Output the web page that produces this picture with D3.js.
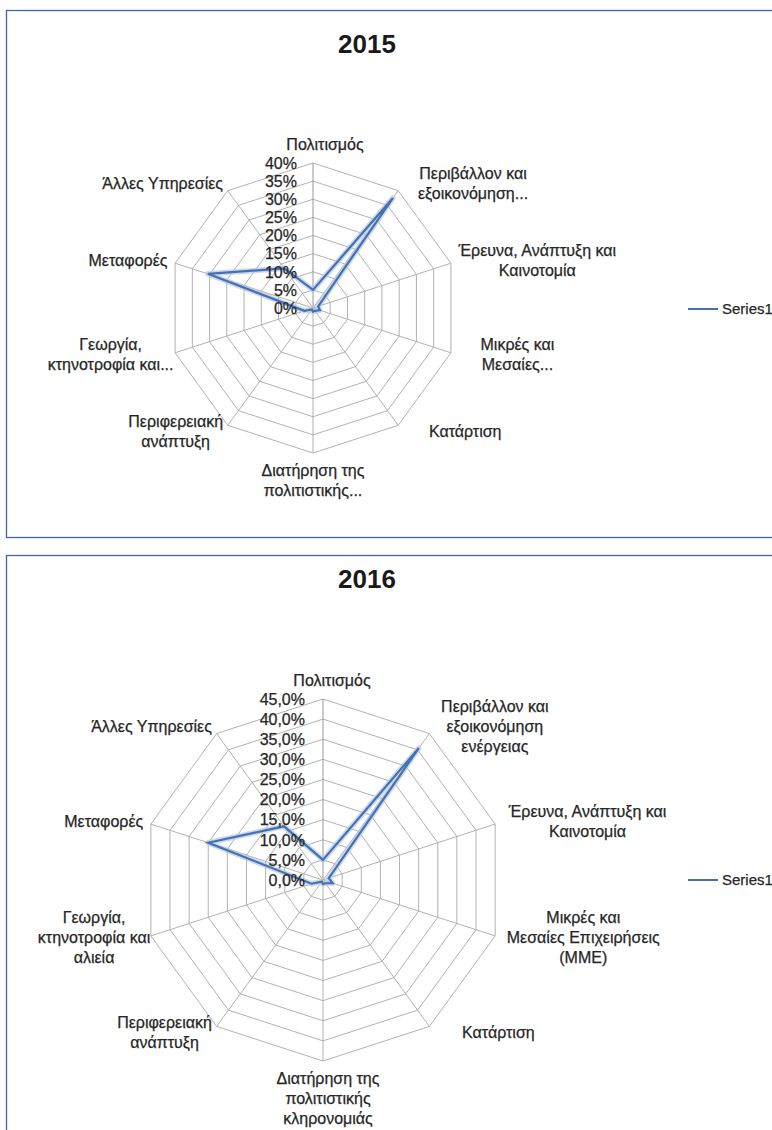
<!DOCTYPE html>
<html>
<head>
<meta charset="utf-8">
<script src="https://cdn.jsdelivr.net/npm/d3@7"></script>
<style>
  body { margin: 0; background: #fff; }
  svg { display: block; font-family: "Liberation Sans", Arial, sans-serif; }
</style>
</head>
<body>
<svg id="chart" width="772" height="1130"></svg>
<script>
// Category labels, split into lines the way the reference wraps them
const categories2015 = [
  ['Πολιτισμός'],
  ['Περιβάλλον και', 'εξοικονόμηση...'],
  ['Έρευνα, Ανάπτυξη και', 'Καινοτομία'],
  ['Μικρές και', 'Μεσαίες...'],
  ['Κατάρτιση'],
  ['Διατήρηση της', 'πολιτιστικής...'],
  ['Περιφερειακή', 'ανάπτυξη'],
  ['Γεωργία,', 'κτηνοτροφία και...'],
  ['Μεταφορές'],
  ['Άλλες Υπηρεσίες']
];
const categories2016 = [
  ['Πολιτισμός'],
  ['Περιβάλλον και', 'εξοικονόμηση', 'ενέργειας'],
  ['Έρευνα, Ανάπτυξη και', 'Καινοτομία'],
  ['Μικρές και', 'Μεσαίες Επιχειρήσεις', '(ΜΜΕ)'],
  ['Κατάρτιση'],
  ['Διατήρηση της', 'πολιτιστικής', 'κληρονομιάς'],
  ['Περιφερειακή', 'ανάπτυξη'],
  ['Γεωργία,', 'κτηνοτροφία και', 'αλιεία'],
  ['Μεταφορές'],
  ['Άλλες Υπηρεσίες']
];

// Series1 values (percent)
const values2015 = [5, 37.5, 1.5, 2, 1, 1, 0.5, 2.5, 30.5, 13.5];
const values2016 = [5, 40.5, 1.5, 2.5, 1, 1, 0.5, 3, 30, 16.5];

// Radial axis ticks
const ticks2015 = [0, 5, 10, 15, 20, 25, 30, 35, 40];
const tickLabels2015 = ['0%', '5%', '10%', '15%', '20%', '25%', '30%', '35%', '40%'];
const ticks2016 = [0, 5, 10, 15, 20, 25, 30, 35, 40, 45];
const tickLabels2016 = ['0,0%', '5,0%', '10,0%', '15,0%', '20,0%', '25,0%', '30,0%', '35,0%', '40,0%', '45,0%'];

const seriesName = 'Series1';

class RadarChart {

  constructor(_config) {
    this.config = _config;
    this.initVis();
  }

  initVis() {
    let vis = this;
    const c = vis.config;

    vis.svg = d3.select(c.parentElement);

    // Panel frame
    vis.svg.append('rect')
      .attr('x', c.frame.x)
      .attr('y', c.frame.y)
      .attr('width', c.frame.width)
      .attr('height', c.frame.height)
      .attr('fill', '#fff')
      .attr('stroke', '#3F62B5')
      .attr('stroke-width', 1.3);

    vis.svg.append('text')
      .attr('x', c.titleX)
      .attr('y', c.titleY)
      .attr('text-anchor', 'middle')
      .attr('font-size', 26)
      .attr('font-weight', 'bold')
      .attr('fill', '#1a1a1a')
      .text(c.title);

    vis.g = vis.svg.append('g')
      .attr('transform', `translate(${c.cx},${c.cy})`);

    const n = c.categories.length;
    vis.angle = d3.scaleLinear()
      .domain([0, n])
      .range([0, 2 * Math.PI]);

    vis.r = d3.scaleLinear()
      .domain([0, d3.max(c.ticks)])
      .range([0, c.radius]);

    vis.render();
  }

  render() {
    let vis = this;
    const c = vis.config;
    const idx = d3.range(c.categories.length);

    // Rings
    const ring = d3.lineRadial()
      .angle(i => vis.angle(i))
      .curve(d3.curveLinearClosed);

    vis.g.selectAll('path.ring')
      .data(c.ticks.filter(t => t > 0))
      .join('path')
        .attr('class', 'ring')
        .attr('d', t => ring.radius(vis.r(t))(idx))
        .attr('fill', 'none')
        .attr('stroke', '#A9A9A9')
        .attr('stroke-width', 0.9);

    // Spokes
    vis.g.selectAll('line.spoke')
      .data(idx)
      .join('line')
        .attr('class', 'spoke')
        .attr('x1', 0).attr('y1', 0)
        .attr('x2', i => Math.sin(vis.angle(i)) * vis.r.range()[1])
        .attr('y2', i => -Math.cos(vis.angle(i)) * vis.r.range()[1])
        .attr('stroke', i => i === 0 ? '#8C8C8C' : '#A9A9A9')
        .attr('stroke-width', 0.9);

    // Series
    const line = d3.lineRadial()
      .angle((d, i) => vis.angle(i))
      .radius(d => vis.r(d))
      .curve(d3.curveLinearClosed);

    vis.g.append('path')
      .attr('d', line(c.values))
      .attr('fill', 'none')
      .attr('stroke', '#B4C9E6')
      .attr('stroke-width', 5.5)
      .attr('stroke-linejoin', 'round')
      .attr('opacity', 0.7);
    vis.g.append('path')
      .attr('d', line(c.values))
      .attr('fill', 'none')
      .attr('stroke', '#4670B0')
      .attr('stroke-width', 2.2)
      .attr('stroke-linejoin', 'miter');

    // Tick labels
    vis.g.selectAll('text.tick')
      .data(c.ticks)
      .join('text')
        .attr('class', 'tick')
        .attr('x', -c.tickOffset)
        .attr('y', t => -vis.r(t))
        .attr('dy', '0.36em')
        .attr('text-anchor', 'end')
        .attr('font-size', 16)
        .attr('fill', '#262626')
        .attr('stroke', '#262626')
        .attr('stroke-width', 0.25)
        .text((t, i) => c.tickLabels[i]);

    // Category labels
    const lineH = 20;
    const R = vis.r.range()[1];
    const gap = 8;
    idx.forEach(i => {
      const lines = c.categories[i];
      const a = vis.angle(i);
      const ux = Math.sin(a), uy = -Math.cos(a);
      const text = vis.g.append('text')
        .attr('class', 'cat')
        .attr('text-anchor', 'middle')
        .attr('font-size', 16)
        .attr('fill', '#262626')
        .attr('stroke', '#262626')
        .attr('stroke-width', 0.25);
      const tspans = lines.map(l => text.append('tspan').text(l));
      const w = d3.max(tspans, t => t.node().getComputedTextLength());
      const h = lines.length * lineH;
      let x = ux * (R + gap) + (ux > 0.2 ? w / 2 : ux < -0.2 ? -w / 2 : 0) + c.labelNudge[i];
      let y = uy * (R + gap) + (uy < -0.95 ? -h / 2 : uy > 0.95 ? h / 2 : 0);
      tspans.forEach((t, k) => {
        t.attr('x', x).attr('y', y - h / 2 + (k + 0.5) * lineH + 5);
      });
    });

    // Legend
    vis.svg.append('line')
      .attr('x1', c.legendX).attr('x2', c.legendX + 30)
      .attr('y1', c.legendY).attr('y2', c.legendY)
      .attr('stroke', '#4670B0')
      .attr('stroke-width', 2);
    vis.svg.append('text')
      .attr('x', c.legendX + 34)
      .attr('y', c.legendY)
      .attr('dy', '0.36em')
      .attr('font-size', 15)
      .attr('fill', '#262626')
      .attr('stroke', '#262626')
      .attr('stroke-width', 0.25)
      .text(seriesName);
  }
}

new RadarChart({
  parentElement: '#chart',
  frame: { x: 6.5, y: 10.5, width: 800, height: 527 },
  title: '2015', titleX: 367, titleY: 53,
  cx: 313, cy: 308, radius: 145,
  categories: categories2015,
  values: values2015,
  ticks: ticks2015,
  tickLabels: tickLabels2015,
  tickOffset: 16,
  labelNudge: [12, 15, 0, 22, 26, 0, 0, 6, 0, 0],
  legendX: 688, legendY: 309
});

new RadarChart({
  parentElement: '#chart',
  frame: { x: 6.5, y: 555.5, width: 800, height: 600 },
  title: '2016', titleX: 367, titleY: 588,
  cx: 323, cy: 880, radius: 181,
  categories: categories2016,
  values: values2016,
  ticks: ticks2016,
  tickLabels: tickLabels2016,
  tickOffset: 18,
  labelNudge: [9, 7, 6, 4, 28, 5, 0, 7, 0, 0],
  legendX: 688, legendY: 880
});
</script>
</body>
</html>
